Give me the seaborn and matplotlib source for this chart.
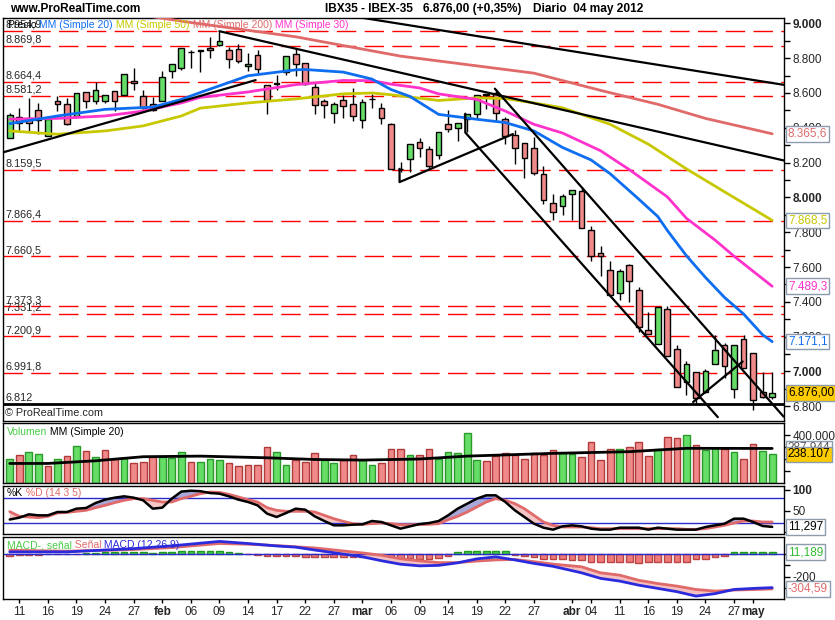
import matplotlib
matplotlib.use("Agg")
import matplotlib.pyplot as plt
import matplotlib.transforms as mtransforms
import numpy as np
import seaborn as sns

sns.set_theme(style="white")
plt.rcParams["font.family"] = ["Liberation Sans", "DejaVu Sans"]

# IBEX-35 daily candles, 10 Jan .. 04 May 2012 (one entry per trading day)
opens = [8341, 8464, 8454, 8500, 8354, 8553, 8538, 8468, 8606, 8553, 8553, 8614, 8591, 8670, 8585, 8534,
         8553, 8724, 8746, 8834, 8843, 8860, 8875, 8847, 8853, 8756, 8818, 8648, 8653, 8720, 8824, 8771,
         8636, 8553, 8483, 8557, 8534, 8445, 8564, 8511, 8420, 8164, 8221, 8318, 8278, 8246, 8420, 8397,
         8449, 8477, 8591, 8600, 8449, 8360, 8312, 8284, 8136, 7965, 7950, 8022, 8035, 7810, 7681, 7582,
         7453, 7612, 7468, 7239, 7159, 7358, 7127, 6937, 6994, 6881, 7042, 7150, 6898, 7184, 7108, 6881, 6855]
highs = [8487, 8511, 8572, 8543, 8458, 8581, 8572, 8602, 8606, 8661, 8591, 8614, 8712, 8746, 8617, 8576,
         8724, 8767, 8860, 8847, 8847, 8923, 8955, 8866, 8879, 8828, 8847, 8648, 8705, 8813, 8856, 8771,
         8661, 8568, 8547, 8587, 8629, 8568, 8595, 8542, 8430, 8202, 8306, 8344, 8297, 8375, 8500, 8426,
         8481, 8591, 8595, 8625, 8462, 8386, 8312, 8348, 8183, 8022, 8018, 8045, 8060, 7836, 7719, 7637,
         7586, 7618, 7487, 7339, 7373, 7374, 7154, 7061, 6994, 7013, 7207, 7165, 7154, 7211, 7108, 6998, 6998]
lows = [8340, 8373, 8373, 8363, 8352, 8496, 8416, 8458, 8515, 8534, 8543, 8496, 8587, 8619, 8506, 8496,
        8553, 8686, 8733, 8743, 8720, 8799, 8870, 8743, 8771, 8724, 8708, 8477, 8616, 8705, 8695, 8648,
        8481, 8454, 8426, 8458, 8439, 8401, 8515, 8420, 8164, 8145, 8145, 8231, 8155, 8221, 8373, 8325,
        8373, 8458, 8506, 8439, 8306, 8193, 8113, 8126, 7961, 7870, 7899, 7870, 7823, 7633, 7548, 7438,
        7411, 7400, 7226, 7214, 7159, 7089, 6913, 6862, 6812, 6875, 7040, 6960, 6850, 7021, 6780, 6846, 6843]
closes = [8471, 8430, 8430, 8447, 8453, 8534, 8420, 8602, 8553, 8617, 8591, 8553, 8712, 8655, 8515, 8500,
          8693, 8767, 8860, 8836, 8845, 8845, 8898, 8796, 8784, 8767, 8739, 8557, 8655, 8813, 8767, 8653,
          8530, 8530, 8534, 8523, 8466, 8547, 8566, 8454, 8164, 8166, 8306, 8284, 8183, 8375, 8392, 8426,
          8481, 8591, 8593, 8487, 8354, 8284, 8227, 8141, 7984, 7914, 8009, 8045, 7823, 7662, 7666, 7438,
          7578, 7520, 7254, 7214, 7373, 7089, 6913, 7042, 6850, 7004, 7121, 7032, 7150, 7021, 6837, 6852, 6876]

volume = [196000, 230000, 255000, 241000, 140000, 196000, 222000, 308000, 264000, 213000, 272000, 199000,
          205000, 163000, 171000, 213000, 213000, 205000, 255000, 171000, 171000, 196000, 188000, 163000,
          138000, 146000, 146000, 297000, 255000, 154000, 191000, 171000, 247000, 188000, 163000, 188000,
          230000, 188000, 146000, 163000, 280000, 280000, 230000, 230000, 280000, 196000, 255000, 247000,
          415000, 188000, 180000, 222000, 247000, 230000, 196000, 247000, 230000, 272000, 247000, 238000,
          213000, 339000, 188000, 280000, 280000, 297000, 339000, 222000, 280000, 381000, 373000, 398000,
          314000, 272000, 290000, 280000, 255000, 196000, 322000, 264000, 238107]
volume_up = [1, 0, 1, 1, 0, 1, 0, 1, 0, 1, 0, 0, 1, 0, 0, 0, 1, 1, 1, 0, 1, 1, 1, 0, 0, 0, 0, 0, 1, 1, 0,
             0, 0, 1, 1, 0, 0, 1, 1, 0, 0, 0, 1, 0, 0, 1, 1, 1, 1, 1, 0, 0, 0, 0, 0, 0, 0, 0, 1, 1, 0, 0,
             0, 0, 1, 0, 0, 0, 1, 0, 0, 1, 0, 1, 1, 0, 1, 0, 0, 1, 1]
vol_ma_days = [0, 4, 9, 14, 20, 27, 32, 37, 43, 48, 57, 65, 71, 80]
vol_ma = [163000, 163000, 185000, 219000, 224000, 210000, 196000, 191000, 200000, 224000, 247000,
          261000, 289000, 287944]

# moving averages on price (read at a set of days)
ma20_days = [0, 5, 10, 15, 18, 20, 25, 30, 31, 35, 38, 40, 42, 45, 49, 52, 55, 58, 61, 63, 66, 68, 69,
             71, 73, 75, 77, 79, 80]
ma20 = [8424, 8468, 8506, 8519, 8563, 8603, 8699, 8733, 8735, 8720, 8680, 8620, 8580, 8477, 8449, 8430,
        8382, 8287, 8215, 8136, 7990, 7890, 7810, 7665, 7540, 7425, 7330, 7210, 7171.1]
ma30_days = [0, 5, 10, 14, 18, 20, 25, 30, 35, 38, 40, 43, 45, 49, 52, 55, 58, 62, 65, 69, 71, 74, 76, 80]
ma30 = [8450, 8454, 8468, 8496, 8543, 8575, 8606, 8648, 8672, 8671, 8651, 8629, 8595, 8563, 8496, 8420,
        8370, 8268, 8160, 8003, 7880, 7755, 7662, 7489.3]
ma50_days = [0, 5, 10, 14, 18, 20, 25, 30, 35, 38, 40, 45, 49, 52, 55, 58, 63, 67, 71, 75, 80]
ma50 = [8382, 8363, 8382, 8411, 8468, 8513, 8543, 8566, 8595, 8600, 8590, 8557, 8572, 8568, 8543, 8515,
        8420, 8306, 8164, 8032, 7868.5]
ma200_days = [10, 19, 30, 41, 55, 62, 68, 73, 80]
ma200 = [9080, 9005, 8923, 8812, 8714, 8615, 8535, 8454, 8365.6]

# horizontal levels (red dashed) and hand drawn trend lines
levels = [8954.9, 8869.8, 8664.4, 8581.2, 8159.5, 7866.4, 7660.5, 7373.3, 7331.2, 7200.9, 6991.8]
support = 6812
trend_lines = [
    ([-0.7, 25.8], [8259, 8674]),
    ([30, 81.2], [9093, 8647]),
    ([22, 81.24], [8955, 8212]),
    ([50.9, 81.2], [8625, 6740]),
    ([47.8, 47.8, 74.3], [8481, 8373, 6737]),
    ([40.9, 40.9, 52.8], [8164, 8088, 8364]),
    ([71.7, 76.9], [6824, 7057]),
]

# stochastic (14 3 5)
stoch_k = [29, 33.4, 41.4, 39, 39, 47, 47, 55, 56.6, 68.6, 76.6, 81.4, 84.6, 81.4, 75, 55, 57.4, 79, 96,
           98, 97, 92.6, 91, 84.6, 76.6, 71, 63, 43, 35, 44.6, 55, 52.6, 36.6, 25.4, 15, 15, 16.6, 17.4,
           25.4, 23, 15, 7, 12.6, 18, 20.6, 25.4, 39, 55, 67, 79, 87, 87, 71, 51, 35, 19, 9.4, 4.6, 12.6,
           15, 12.6, 7, 4.6, 4.6, 9.4, 9.4, 9.4, 4.6, 9.4, 7, 4.6, 4.6, 4.6, 11, 15, 19, 31, 31, 23, 13.4,
           11.297]
stoch_d = [47.8, 36.6, 35, 33.4, 36.6, 44.6, 46, 48.6, 51, 57.4, 63, 69.4, 75, 79, 79, 75, 71, 71, 79,
           84.6, 91, 95, 94.2, 89.4, 83, 76.6, 71, 57.4, 51, 48.6, 48.6, 48.6, 47, 39, 31, 24.6, 19, 17.4,
           19, 20.6, 19, 16.6, 16.6, 17, 17.4, 19, 28.6, 36.6, 47, 59, 71, 79, 75, 67, 55, 39, 23, 15, 11,
           11, 11, 9.4, 7, 7, 7, 7, 7, 7, 7, 7, 7, 5.4, 5.4, 7, 11, 15, 20.6, 25.4, 25.4, 23, 23]

# MACD (12 26 9)
macd_days = [0, 6, 13, 17, 22, 25, 28, 30, 32, 35, 37, 39, 41, 43, 45, 47, 49, 51, 53, 55, 57, 60, 62,
             64, 66, 68, 70, 72, 74, 76, 78, 80]
macd = [14, 14, 42, 66, 104, 86, 65, 55, 30, -5, -28, -62, -92, -106, -102, -80, -46, -29, -55, -85,
        -110, -166, -214, -237, -272, -300, -328, -366, -345, -309, -300, -293.4]
signal = [28, 20, 34, 51, 86, 80, 68, 58, 48, 22, 5, -15, -45, -63, -78, -78, -65, -55, -51, -70, -91,
          -114, -166, -186, -230, -258, -280, -309, -323, -314, -310, -304.59]
macd_hist = [-18, -16, -14, -12, -6, -4, -8, -3, 3, 8, 10, 10, 12, 14, 10, 8, 12, 16, 22, 24, 22, 20, 18,
             12, 4, -8, -14, -18, -20, -20, -22, -26, -30, -30, -30, -30, -34, -30, -30, -30, -36, -40,
             -42, -43, -43, -35, -20, 15, 20, 22, 22, 22, 18, -9, -20, -29, -43, -51, -51, -57, -57, -71,
             -71, -71, -71, -71, -80, -71, -71, -71, -71, -71, -51, -43, -29, -20, 11, 11, 11, 11, 11.189]

tick_days = [1, 4, 7, 10, 13, 16, 19, 22, 25, 28, 31, 34, 37, 40, 43, 46, 49, 52, 55, 59, 61, 64, 67,
             70, 73, 76, 78]
tick_labels = ["11", "16", "19", "24", "27", "feb", "06", "09", "14", "17", "22", "27", "mar", "06", "09",
               "14", "19", "22", "27", "abr", "04", "11", "16", "19", "24", "27", "may"]
months = {"feb", "mar", "abr", "may"}

GREEN, RED = "#66dd66", "#f08a8a"
BLUE, YELLOW, SALMON, MAGENTA = "#0f6ef0", "#c8c800", "#e06a6a", "#ff33cc"
W, H = 835, 620


def es(v, dec):
    s = f"{v:,.{dec}f}"
    return s.replace(",", "X").replace(".", ",").replace("X", ".")


def rect(x0, y0, x1, y1):
    return [x0 / W, 1 - y1 / H, (x1 - x0) / W, (y1 - y0) / H]


fig = plt.figure(figsize=(W / 100, H / 100), dpi=100)
fig.patch.set_facecolor("white")
ax_p = fig.add_axes(rect(3, 18, 784, 421))
ax_v = fig.add_axes(rect(3, 423, 784, 483))
ax_s = fig.add_axes(rect(3, 486, 784, 534))
ax_m = fig.add_axes(rect(3, 537, 784, 599))

for ax in (ax_p, ax_v, ax_s, ax_m):
    ax.set_facecolor("white")
    for sp in ax.spines.values():
        sp.set_color("black")
        sp.set_linewidth(1)
    ax.tick_params(axis="y", which="both", left=False, right=True, labelleft=False, labelright=True,
                   direction="out", length=4, width=1, color="black", labelsize=8.5, pad=2)
    ax.tick_params(axis="x", which="both", bottom=False, labelbottom=False)

x = np.arange(len(closes))
o, h, l, c = map(np.array, (opens, highs, lows, closes))
up = c >= o

# price panel
for lv in levels:
    ax_p.axhline(lv, color="#ff0000", lw=1, dashes=(14, 6), zorder=1)
ax_p.axhline(support, color="black", lw=2, zorder=2)
ax_p.vlines(x, l, h, color="black", lw=1, zorder=3)
ax_p.bar(x, np.abs(c - o), bottom=np.minimum(o, c), width=0.6,
         color=np.where(up, GREEN, RED), edgecolor="black", linewidth=1, zorder=4)
for d, v, col in [(ma200_days, ma200, SALMON), (ma50_days, ma50, YELLOW),
                  (ma30_days, ma30, MAGENTA), (ma20_days, ma20, BLUE)]:
    sns.lineplot(x=d, y=v, ax=ax_p, color=col, lw=2, zorder=5)
for tx, ty in trend_lines:
    ax_p.plot(tx, ty, color="black", lw=1.6, zorder=6)

blend_p = mtransforms.blended_transform_factory(ax_p.transAxes, ax_p.transData)
for lv in levels + [support]:
    ax_p.annotate(es(lv, 1 if lv != support else 0), xy=(0.003, lv), xycoords=blend_p, xytext=(0, 1),
                  textcoords="offset points", fontsize=7.8, va="bottom", ha="left", zorder=7)
ax_p.text(0.003, 0.019, "© ProRealTime.com", transform=ax_p.transAxes, fontsize=7.8, va="center")
ax_p.set_ylim(6715, 9031)
ax_p.set_yticks(range(6800, 9001, 200))
ax_p.set_yticklabels([es(v, 0) for v in range(6800, 9001, 200)])
ax_p.set_yticks(range(6800, 9001, 100), minor=True)
for t in ax_p.get_yticklabels():
    if t.get_text().endswith(".000"):
        t.set_fontweight("bold")

# volume panel
ax_v.bar(x, volume, width=0.7, color=[GREEN if u else RED for u in volume_up],
         edgecolor=["#2a9a2a" if u else "#b03a3a" for u in volume_up], linewidth=1)
sns.lineplot(x=vol_ma_days, y=vol_ma, ax=ax_v, color="black", lw=2)
ax_v.set_ylim(0, 500000)
ax_v.set_yticks([100000, 200000, 300000, 400000])
ax_v.set_yticklabels(["", "", "", "400.000"])

# stochastic panel
sk, sd = np.array(stoch_k), np.array(stoch_d)
ax_s.fill_between(x, sk, sd, where=sk >= sd, interpolate=True, color="#a8a8d8", lw=0)
ax_s.fill_between(x, sk, sd, where=sk < sd, interpolate=True, color="#f5c6c6", lw=0)
ax_s.axhline(80, color="#2b2bcc", lw=1)
ax_s.axhline(20, color="#2b2bcc", lw=1)
sns.lineplot(x=x, y=sd, ax=ax_s, color=SALMON, lw=2)
sns.lineplot(x=x, y=sk, ax=ax_s, color="black", lw=1.8)
ax_s.set_ylim(-5.8, 109.4)
ax_s.set_yticks([0, 50, 100])
ax_s.set_yticklabels(["", "50", "100"])
ax_s.get_yticklabels()[2].set_fontweight("bold")

# MACD panel
mh = np.array(macd_hist)
ax_m.bar(x, mh, width=0.7, color=np.where(mh >= 0, "#44cc44", "#ee7a7a"),
         edgecolor=np.where(mh >= 0, "#229922", "#bb4444"), linewidth=1)
mv, sv = np.array(macd), np.array(signal)
ax_m.fill_between(macd_days, mv, sv, where=mv >= sv, interpolate=True, color="#b6eeb6", lw=0)
ax_m.fill_between(macd_days, mv, sv, where=mv < sv, interpolate=True, color="#f4c0c0", lw=0)
ax_m.axhline(0, color="#2b2bcc", lw=1)
sns.lineplot(x=macd_days, y=signal, ax=ax_m, color=SALMON, lw=2)
sns.lineplot(x=macd_days, y=macd, ax=ax_m, color="#2b2bdd", lw=2)
ax_m.set_ylim(-391, 142)
ax_m.set_yticks([-300, -200, -100, 0])
ax_m.set_yticklabels(["", "-200", "", ""])
ax_m.set_xticks(tick_days)
ax_m.set_xticklabels(tick_labels)
ax_m.tick_params(axis="x", bottom=True, labelbottom=True, length=3, width=1, color="black",
                 labelsize=8.5, pad=2)
for t in ax_m.get_xticklabels():
    if t.get_text() in months:
        t.set_fontweight("bold")

for ax in (ax_p, ax_v, ax_s, ax_m):
    ax.set_xlim(-0.71, 81.24)
    ax.set_xlabel("")
    ax.set_ylabel("")


def value_box(ax, val, text, color, fc="white"):
    tr = mtransforms.blended_transform_factory(ax.transAxes, ax.transData)
    ax.text(1.005, val, text, transform=tr, fontsize=8.5, color=color, va="center", ha="left",
            clip_on=False, zorder=10,
            bbox=dict(boxstyle="square,pad=0.15", fc=fc, ec="#8c9cac", lw=1))


value_box(ax_p, ma200[-1], es(ma200[-1], 1), SALMON)
value_box(ax_p, ma50[-1], es(ma50[-1], 1), YELLOW)
value_box(ax_p, ma30[-1], es(ma30[-1], 1), MAGENTA)
value_box(ax_p, ma20[-1], es(ma20[-1], 1), BLUE)
value_box(ax_p, closes[-1], es(closes[-1], 2), "black", fc="#ffcc00")
value_box(ax_v, vol_ma[-1], es(vol_ma[-1], 0), "#555555")
value_box(ax_v, volume[-1], es(volume[-1], 0), "black", fc="#ffcc00")
value_box(ax_s, stoch_k[-1], es(stoch_k[-1], 3), "black")
value_box(ax_m, macd_hist[-1], es(macd_hist[-1], 3), "#33bb33")
value_box(ax_m, signal[-1], es(signal[-1], 2), SALMON)

renderer = fig.canvas.get_renderer()


def color_run(x_px, y_px, parts, size, weight="normal"):
    for txt, col in parts:
        t = fig.text(x_px / W, 1 - y_px / H, txt, color=col, fontsize=size, fontweight=weight,
                     va="center", ha="left", zorder=20)
        x_px += t.get_window_extent(renderer=renderer).width


color_run(7, 25, [("Precio", "black"), (" MM (Simple 20)", BLUE), (" MM (Simple 50)", YELLOW),
                  (" MM (Simple 200)", SALMON), (" MM (Simple 30)", MAGENTA)], 7.5)
color_run(7, 432, [("Volumen", "#44cc44"), (" MM (Simple 20)", "black")], 7.5)
color_run(7, 493, [("%K", "black"), (" %D (14 3 5)", SALMON)], 7.5)
color_run(7, 545, [("MACD-, señal", "#44cc44"), (" Señal", SALMON), (" MACD (12 26 9)", "#2b2bdd")], 7.5)

color_run(10, 9, [("www.ProRealTime.com", "black")], 8.6, "bold")
color_run(325, 9, [("IBX35 - IBEX-35", "black")], 8.6, "bold")
color_run(423, 9, [("6.876,00 (+0,35%)", "black")], 8.6, "bold")
color_run(533, 9, [("Diario  04 may 2012", "black")], 8.6, "bold")

fig.savefig("out.png", dpi=100)
